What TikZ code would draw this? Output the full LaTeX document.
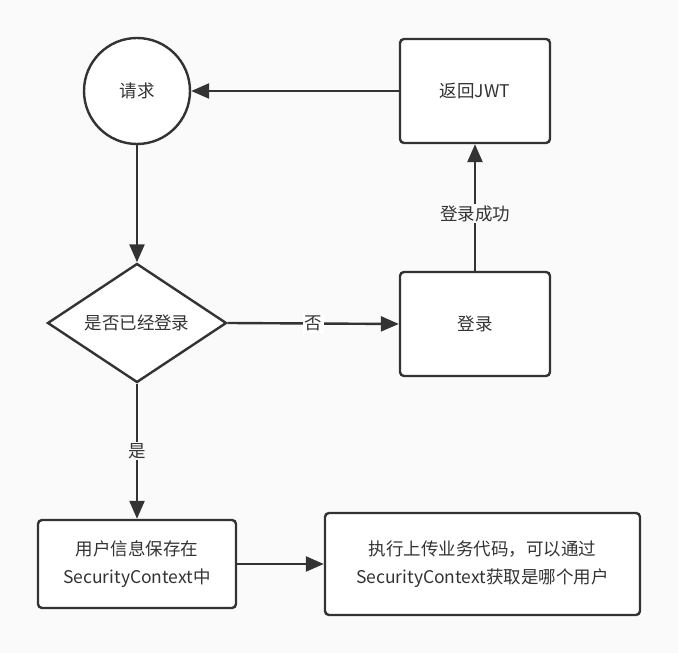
\documentclass[tikz,border=0pt]{standalone}
\usepackage{fontspec}
\setmainfont{Noto Sans CJK SC}
\usepackage{xcolor}
\usetikzlibrary{arrows.meta,shapes.geometric}
\definecolor{linie}{HTML}{333333}
\definecolor{grund}{HTML}{FAFAFA}

\begin{document}
\begin{tikzpicture}[x=1pt, y=1pt, >={Triangle[length=18pt, width=15pt]},
	kreis/.style={circle, draw=linie, fill=white, line width=2.4pt, minimum size=106pt, inner sep=0pt},
	kasten/.style={draw=linie, fill=white, line width=2.4pt, rounded corners=4pt, inner sep=0pt, align=center},
	raute/.style={diamond, draw=linie, fill=white, line width=2.4pt, aspect=1.5, inner sep=0pt, minimum width=179pt, minimum height=119pt},
	pfeil/.style={->, draw=linie, line width=2.4pt},
	marke/.style={fill=grund, inner sep=1.5pt},
	every node/.style={text=linie, font=\fontsize{17.5}{28}\selectfont}]

	% hintergrund
	\fill[grund] (0,0) rectangle (678,653);
	\useasboundingbox (0,0) rectangle (678,653);

	% knoten
	\node[kreis] (anfrage) at (137,562) {请求};
	\node[kasten, minimum width=150pt, minimum height=104pt] (jwt) at (475,562) {返回JWT};
	\node[raute] (pruefung) at (137,330) {是否已经登录};
	\node[kasten, minimum width=150pt, minimum height=104pt] (login) at (475,329) {登录};
	\node[kasten, minimum width=198pt, minimum height=88pt] (speichern) at (137,89) {用户信息保存在\\SecurityContext中};
	\node[kasten, minimum width=315pt, minimum height=102pt] (ausfuehren) at (482.5,89) {执行上传业务代码，可以通过\\SecurityContext获取是哪个用户};

	% verbindungen
	\draw[pfeil] (jwt.west) -- (anfrage.east);
	\draw[pfeil] (anfrage.south) -- (pruefung.north);
	\draw[pfeil] (pruefung.east) -- node[marke, fill=white] {否} (login.west);
	\draw[pfeil] (login.north) -- node[marke, pos=0.45] {登录成功} (jwt.south);
	\draw[pfeil] (pruefung.south) -- node[marke] {是} (speichern.north);
	\draw[pfeil] (speichern.east) -- (ausfuehren.west);
\end{tikzpicture}
\end{document}
